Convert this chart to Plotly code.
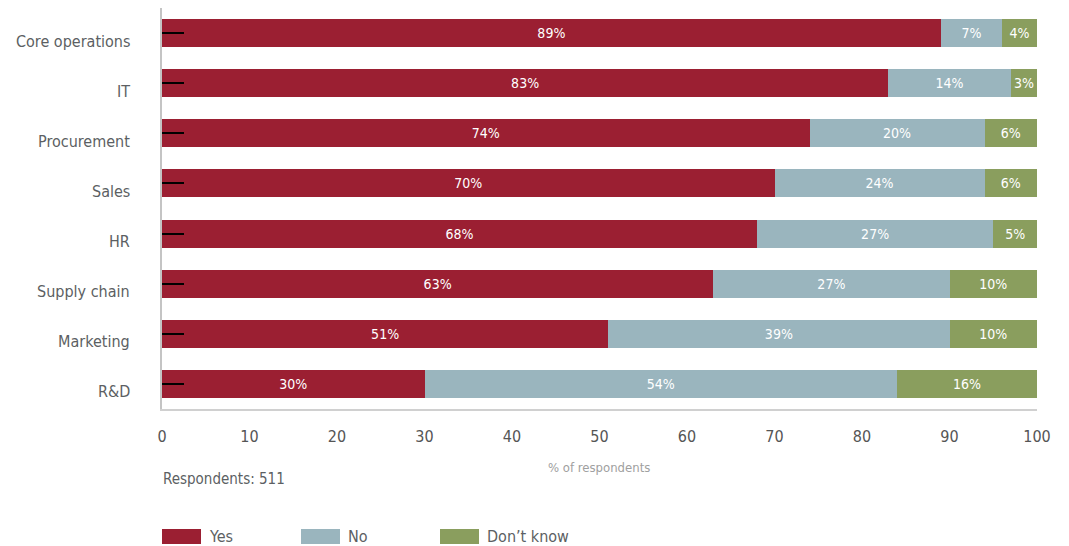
import plotly.graph_objects as go

categories = ["Core operations", "IT", "Procurement", "Sales", "HR", "Supply chain", "Marketing", "R&D"]
yes_vals = [89, 83, 74, 70, 68, 63, 51, 30]
no_vals = [7, 14, 20, 24, 27, 27, 39, 54]
dk_vals = [4, 3, 6, 6, 5, 10, 10, 16]
series_names = ["Yes", "No", "Don\u2019t know"]
colors = ["#9B1F32", "#9AB5BE", "#8A9E5E"]
x_ticks = [0, 10, 20, 30, 40, 50, 60, 70, 80, 90, 100]

FONT = "DejaVu Sans Condensed, Liberation Sans Narrow, sans-serif"
TXT = "#5c5f63"

# page offsets the figure by 8px (body margin)
OFF = 8
W, H = 1069 - OFF, 546 - OFF
PL, PT, PW, PH = 162, 8, 875, 401  # plot area in screen pixels


def px(x):
    return (x - PL) / PW


def py(y):
    return (PT + PH - y) / PH


fig = go.Figure()
for name, vals, col in zip(series_names, [yes_vals, no_vals, dk_vals], colors):
    fig.add_trace(go.Bar(
        y=categories, x=vals, name=name, orientation="h",
        marker=dict(color=col, line=dict(width=0)),
        text=[f"{v}%" for v in vals], textposition="inside",
        insidetextanchor="middle",
        textfont=dict(color="white", size=14, family=FONT),
        showlegend=False, hoverinfo="x+y+name",
    ))

fig.update_layout(
    barmode="stack", bargap=0.44,
    width=W, height=H,
    margin=dict(l=PL - OFF, r=W - (PL - OFF) - PW, t=PT - OFF,
                b=H - (PT - OFF) - PH, autoexpand=False),
    plot_bgcolor="white", paper_bgcolor="white",
    font=dict(family=FONT, color=TXT),
)
fig.update_xaxes(
    range=[0, 100], tickvals=x_ticks, showgrid=False, zeroline=False,
    showline=True, linecolor="#d0d0d0", linewidth=2,
    ticks="", tickfont=dict(size=16, color="#555555", family=FONT),
    ticklabelstandoff=12, automargin=False,
)
fig.update_yaxes(
    categoryorder="array", categoryarray=categories[::-1],
    showgrid=False, zeroline=False,
    showline=True, linecolor="#c4c4c4", linewidth=2,
    ticks="inside", ticklen=22, tickwidth=2, tickcolor="black",
    showticklabels=False, automargin=False,
)

# category labels (sit slightly below bar centre, as in the original)
for cat in categories:
    fig.add_annotation(text=cat, xref="paper", yref="y", x=0, y=cat,
                       xanchor="right", yanchor="middle", xshift=-30, yshift=-8,
                       showarrow=False, font=dict(size=16, color=TXT, family=FONT))

fig.add_annotation(text="% of respondents", xref="paper", yref="paper",
                   x=px(599), y=py(467), xanchor="center", yanchor="middle", showarrow=False,
                   font=dict(size=13, color="#a0a0a0", family=FONT))
fig.add_annotation(text="Respondents: 511", xref="paper", yref="paper",
                   x=px(161), y=py(479), xanchor="left", yanchor="middle", showarrow=False,
                   font=dict(size=15, color=TXT, family=FONT))

# custom legend
leg_x = [162, 301, 440]
for name, col, lx in zip(series_names, colors, leg_x):
    fig.add_shape(type="rect", xref="paper", yref="paper",
                  x0=px(lx), x1=px(lx + 39),
                  y0=py(544), y1=py(529),
                  fillcolor=col, line=dict(width=0))
    fig.add_annotation(text=name, xref="paper", yref="paper",
                       x=px(lx + 45), y=py(536),
                       xanchor="left", yanchor="middle", showarrow=False,
                       font=dict(size=16, color=TXT, family=FONT))

fig.write_html("out.html")
